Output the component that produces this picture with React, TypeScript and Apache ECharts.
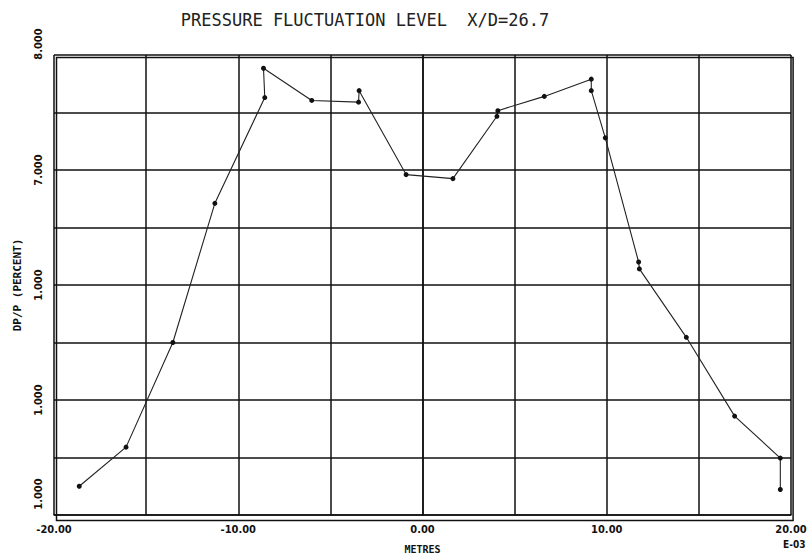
import React, { useEffect, useRef } from "react";
import * as echarts from "echarts";

const titleText = "PRESSURE FLUCTUATION LEVEL  X/D=26.7";
const xAxisName = "METRES";
const xScaleNote = "E-03";
const yAxisName = "DP/P (PERCENT)";

const xTickValues = [-20, -10, 0, 10, 20];
const xTickLabels = ["-20.00", "-10.00", "0.00", "10.00", "20.00"];
const yTickValues = [4, 5, 6, 7, 8];
const yTickLabels = ["1.000", "1.000", "1.000", "7.000", "8.000"];

const positions = [
  -18.63, -16.09, -13.55, -11.27, -8.56, -8.63, -6.01, -3.47, -3.44, -0.89,
  1.65, 4.04, 4.09, 6.61, 9.16, 9.16, 9.92, 11.73, 11.77, 14.32, 16.94, 19.42, 19.42,
];
const levels = [
  4.25, 4.59, 5.5, 6.71, 7.63, 7.885, 7.605, 7.59, 7.69, 6.96,
  6.925, 7.467, 7.516, 7.64, 7.79, 7.69, 7.28, 6.2, 6.14, 5.545, 4.86, 4.495, 4.222,
];

export default function App() {
  const ref = useRef<HTMLDivElement>(null);
  useEffect(() => {
    document.body.style.margin = "0";
    const chart = echarts.init(ref.current!, null, { renderer: "svg" });
    const data = positions.map((x, i) => [x, levels[i]]);
    const tickFont = "DejaVu Sans Condensed";
    const tickStyle = {
      fontFamily: tickFont,
      fontSize: 11,
      fontWeight: "bold" as const,
      color: "#111",
    };
    chart.setOption({
      animation: false,
      backgroundColor: "#ffffff",
      title: {
        text: titleText,
        left: 360,
        top: 6,
        textAlign: "center",
        textStyle: {
          fontFamily: "DejaVu Sans Mono",
          fontSize: 17,
          fontWeight: "normal",
          color: "#222",
        },
      },
      grid: { left: 54, right: 20, top: 55, bottom: 41, containLabel: false },
      xAxis: {
        type: "value",
        min: -20,
        max: 20,
        interval: 5,
        name: xAxisName,
        nameLocation: "middle",
        nameGap: 29,
        nameTextStyle: {
          fontFamily: "DejaVu Sans Mono",
          fontSize: 10,
          fontWeight: "bold",
          color: "#111",
        },
        axisLine: { show: true, lineStyle: { color: "#111", width: 1.5 } },
        axisTick: { show: false },
        splitLine: { show: true, lineStyle: { color: "#111", width: 1.5 } },
        axisLabel: {
          show: true,
          margin: 9,
          ...tickStyle,
          showMinLabel: true,
          showMaxLabel: true,
          formatter: (v: number) => {
            const i = xTickValues.indexOf(Math.round(v * 100) / 100);
            return i >= 0 ? xTickLabels[i] : "";
          },
        },
      },
      yAxis: {
        type: "value",
        min: 4,
        max: 8,
        interval: 0.5,
        name: yAxisName,
        nameLocation: "middle",
        nameGap: 31,
        nameRotate: 90,
        nameTextStyle: {
          fontFamily: "DejaVu Sans Mono",
          fontSize: 11,
          fontWeight: "bold",
          color: "#111",
        },
        axisLine: { show: true, lineStyle: { color: "#111", width: 1.5 } },
        axisTick: { show: false },
        splitLine: { show: true, lineStyle: { color: "#111", width: 1.5 } },
        axisLabel: {
          show: true,
          rotate: 90,
          margin: 10,
          ...tickStyle,
          showMinLabel: true,
          showMaxLabel: true,
          rich: {
            lo: { ...tickStyle, padding: [0, 0, 0, 42] },
            hi: { ...tickStyle, padding: [0, 0, 0, 22] },
          },
          formatter: (v: number) => {
            const r = Math.round(v * 100) / 100;
            const i = yTickValues.indexOf(r);
            if (i < 0) return "";
            if (i === 0) return "{lo|" + yTickLabels[i] + "}";
            if (i === yTickValues.length - 1) return "{hi|" + yTickLabels[i] + "}";
            return yTickLabels[i];
          },
        },
      },
      graphic: [
        {
          type: "text",
          left: 783,
          top: 539,
          style: {
            text: xScaleNote,
            fontFamily: tickFont,
            fontSize: 10,
            fontWeight: "bold",
            fill: "#111",
          },
        },
        {
          type: "rect",
          left: 54,
          top: 55,
          shape: { width: 736.6, height: 463 },
          style: { fill: "none", stroke: "#111", lineWidth: 1.5 },
          silent: true,
        },
      ],
      series: [
        {
          type: "line",
          data,
          symbol: "circle",
          symbolSize: 5,
          itemStyle: { color: "#111" },
          lineStyle: { color: "#222", width: 1.1 },
          z: 5,
        },
      ],
    });
    return () => chart.dispose();
  }, []);
  return <div ref={ref} style={{ width: 811, height: 559 }} />;
}
